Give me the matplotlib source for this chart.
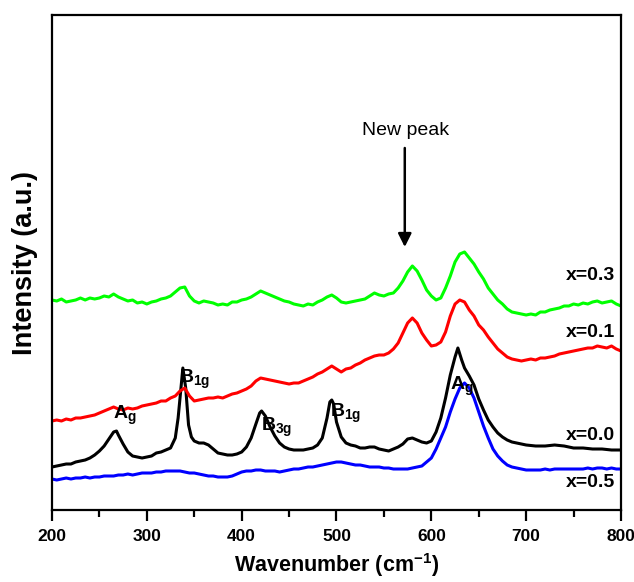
import numpy as np
import matplotlib
matplotlib.use('Agg')
import matplotlib.pyplot as plt

plt.rcParams['font.family'] = ['Liberation Sans', 'DejaVu Sans']
plt.rcParams['mathtext.fontset'] = 'custom'
plt.rcParams['mathtext.rm'] = 'Liberation Sans'
plt.rcParams['mathtext.bf'] = 'Liberation Sans:bold'

# Raman spectra, intensity in arbitrary units (stacked)
wn = np.arange(200, 801, 5)

I_03 = 510 - np.array([
    300, 301, 299, 302, 301, 300, 298, 300, 298, 299, 298, 296, 297, 294, 297, 299,
    301, 300, 303, 302, 304, 302, 301, 299, 298, 296, 292, 288, 287, 296, 301, 303,
    301, 302, 303, 305, 304, 305, 302, 302, 300, 299, 297, 294, 291, 293, 295, 297,
    299, 301, 302, 304, 305, 306, 304, 305, 302, 300, 297, 295, 298, 302, 303, 302,
    301, 300, 299, 296, 293, 295, 296, 294, 293, 288, 281, 272, 266, 271, 280, 290,
    296, 300, 298, 288, 276, 262, 254, 252, 258, 264, 272, 279, 288, 294, 300, 304,
    309, 312, 313, 314, 315, 314, 315, 312, 312, 310, 309, 308, 306, 306, 304, 305,
    303, 304, 302, 301, 303, 302, 301, 304, 306])

I_01 = 510 - np.array([
    421, 420, 421, 419, 420, 418, 418, 417, 416, 415, 413, 411, 409, 407, 409, 410,
    408, 409, 408, 406, 405, 404, 403, 401, 401, 398, 396, 391, 388, 396, 401, 400,
    399, 398, 398, 397, 398, 396, 394, 393, 391, 389, 386, 381, 378, 379, 380, 381,
    382, 383, 384, 383, 383, 381, 379, 377, 374, 372, 369, 366, 369, 372, 369, 368,
    365, 363, 360, 358, 356, 355, 355, 353, 349, 343, 333, 323, 318, 323, 333, 340,
    346, 345, 342, 332, 316, 304, 300, 302, 310, 316, 325, 330, 337, 343, 349, 353,
    357, 359, 360, 361, 360, 359, 360, 358, 358, 357, 356, 354, 353, 352, 351, 350,
    349, 348, 348, 346, 347, 348, 346, 349, 351])

I_05 = 510 - np.array([
    479, 480, 479, 478, 479, 478, 478, 477, 478, 477, 477, 476, 476, 476, 475, 475,
    474, 475, 474, 473, 473, 473, 472, 472, 471, 471, 471, 471, 472, 473, 473, 474,
    475, 476, 476, 477, 477, 477, 476, 474, 472, 471, 471, 470, 470, 471, 471, 471,
    472, 471, 470, 469, 469, 468, 467, 467, 466, 465, 464, 463, 462, 462, 463, 464,
    465, 465, 466, 467, 467, 467, 468, 468, 469, 469, 469, 469, 468, 467, 466, 462,
    458, 449, 438, 427, 412, 399, 388, 383, 388, 398, 412, 426, 438, 449, 456, 461,
    465, 467, 468, 469, 470, 470, 470, 470, 469, 470, 469, 469, 469, 469, 469, 469,
    469, 468, 469, 468, 468, 469, 468, 469, 469])

# x=0.0 has sharp modes, sampled more densely around them
wn_00 = np.array([
    200, 205, 210, 215, 220, 225, 230, 235, 240, 245, 250, 255, 260, 265, 268, 270,
    275, 280, 285, 290, 295, 300, 305, 310, 315, 320, 325, 330, 333, 336, 338, 341,
    344, 347, 350, 355, 360, 365, 370, 375, 380, 385, 390, 395, 400, 405, 410, 415,
    419, 421, 425, 430, 435, 440, 445, 450, 455, 460, 465, 470, 475, 480, 485, 490,
    493, 495, 497, 500, 505, 510, 515, 520, 525, 530, 535, 540, 545, 550, 555, 560,
    565, 570, 575, 580, 585, 590, 595, 600, 605, 610, 615, 620, 625, 628, 632, 635,
    640, 645, 650, 655, 660, 665, 670, 675, 680, 685, 690, 695, 700, 710, 720, 730,
    740, 750, 760, 770, 780, 790, 800])
I_00 = 510 - np.array([
    467, 466, 465, 464, 464, 462, 461, 460, 458, 455, 451, 446, 439, 432, 431, 435,
    444, 452, 456, 457, 458, 457, 456, 453, 452, 450, 448, 438, 418, 388, 368, 388,
    425, 437, 441, 443, 443, 445, 449, 453, 454, 455, 455, 454, 452, 447, 438, 424,
    413, 411, 416, 427, 436, 443, 447, 449, 450, 450, 450, 449, 448, 445, 438, 418,
    402, 400, 404, 422, 437, 443, 445, 446, 448, 448, 447, 447, 449, 450, 451, 449,
    447, 444, 439, 438, 440, 442, 443, 441, 432, 418, 398, 375, 357, 348, 360, 368,
    376, 385, 399, 410, 420, 427, 433, 437, 440, 442, 443, 444, 445, 446, 446, 445,
    446, 448, 448, 449, 449, 450, 450])

fig = plt.figure(figsize=(6.34, 5.82), dpi=100)
ax = fig.add_axes([0.082, 0.1237, 0.8975, 0.8497])

lw = 2.2
ax.plot(wn, I_05, color='#0000ff', lw=lw)
ax.plot(wn_00, I_00, color='black', lw=lw)
ax.plot(wn, I_01, color='#ff0000', lw=lw)
ax.plot(wn, I_03, color='#00ff00', lw=lw)

ax.set_xlim(200, 800)
ax.set_ylim(0, 494.5)
ax.set_yticks([])
ax.set_xticks(np.arange(200, 801, 100))
ax.set_xticks(np.arange(250, 800, 100), minor=True)
ax.tick_params(axis='x', which='major', direction='out', length=8, width=1.6, pad=6)
ax.tick_params(axis='x', which='minor', direction='out', length=5, width=1.6)
for lab in ax.get_xticklabels():
    lab.set_fontsize(12.5)
    lab.set_fontweight('bold')
for s in ax.spines.values():
    s.set_linewidth(1.6)

ax.set_xlabel(r'Wavenumber (cm$^{\mathbf{-1}}$)', fontsize=15.5, fontweight='bold', labelpad=5)
ax.set_ylabel('Intensity (a.u.)', fontsize=19.5, fontweight='bold', labelpad=10)

# sample labels
for txt, yv in [('x=0.3', 234), ('x=0.1', 177), ('x=0.0', 75), ('x=0.5', 28)]:
    ax.text(794, yv, txt, fontsize=14, fontweight='bold', ha='right', va='center')

# mode assignments
pk = dict(fontsize=14, ha='left', va='center')
ax.text(264, 95, r'$\mathbf{A}_{\mathbf{g}}$', **pk)
ax.text(334, 131, r'$\mathbf{B}_{\mathbf{1g}}$', **pk)
ax.text(420, 83, r'$\mathbf{B}_{\mathbf{3g}}$', **pk)
ax.text(493, 97, r'$\mathbf{B}_{\mathbf{1g}}$', **pk)
ax.text(620, 124, r'$\mathbf{A}_{\mathbf{g}}$', **pk)

ax.text(573, 379, 'New peak', fontsize=14, ha='center', va='center')
ax.annotate('', xy=(572, 263), xytext=(572, 362),
            arrowprops=dict(arrowstyle='-|>', color='black', lw=1.8,
                            mutation_scale=20, shrinkA=0, shrinkB=0))

fig.savefig('out.png', dpi=100)
